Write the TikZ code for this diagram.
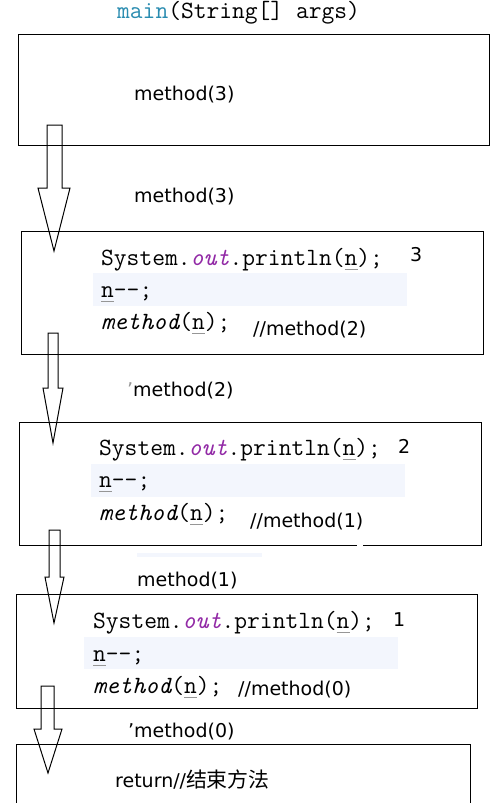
\documentclass[tikz,border=0pt]{standalone}
\usepackage{fontspec}
\setmainfont{DejaVu Sans}
\newfontfamily\cjk[Scale=1.1]{Noto Sans CJK SC}
\definecolor{MainBlue} {RGB}{42,140,176}
\definecolor{OutPurple}{RGB}{146,42,166}
\definecolor{LineBand} {RGB}{243,246,253}
\definecolor{VarLine}  {RGB}{150,150,150}
\newcommand\uvar{\rlap{\color{VarLine}\rule[-0.2em]{0.525em}{0.05em}}n}
\tikzset{
  callbox/.style={draw,line width=1pt},
  code/.style={font=\ttfamily\fontsize{24.8}{26}\selectfont,anchor=base west,inner sep=0pt},
  lbl/.style={font=\fontsize{19}{22}\selectfont,anchor=base west,inner sep=0pt},
  blockarrow/.style={draw,line width=1pt,line join=miter}
}

\begin{document}
\begin{tikzpicture}[x=1pt,y=-1pt]
  \useasboundingbox (0,0) rectangle (499,803);
  % header
  \node[code] (head) at (117,18) {\textcolor{MainBlue}{main}(String[] args)};
  % frame of main
  \draw[callbox] (18,34) rectangle (489,145);
  \node[lbl] (call3) at (134,100) {method(3)};

  % highlighted lines
  \fill[LineBand] (93,273) rectangle (407,306);
  \fill[LineBand] (91,464) rectangle (405,497);
  \fill[LineBand] (84,637) rectangle (398,669);
  \fill[LineBand] (137,553) rectangle (262,557);

  % frames of method(3), method(2), method(1)
  \draw[callbox] (21,231) rectangle (483,354);
  \draw[callbox] (19,422) rectangle (481,545);
  \fill[white] (357,543) rectangle (363,547);
  \draw[callbox] (16,594) rectangle (477,708);
  % frame of method(0)
  \draw[callbox] (16,744) rectangle (470,812);

  % bodies
  \foreach \nm/\x/\ya/\yb/\yc/\out/\ox/\oy/\cmt/\cx/\cy in
     {m3/101/265/297/329/3/410/261/2/253/335,
      m2/99/455/487/520/2/398/453/1/250/527,
      m1/93/628/661/693/1/393/626/0/238/695}{
    \node[code] (\nm-print) at (\x,\ya)
      {System.\textcolor{OutPurple}{\itshape out}.println(\uvar);};
    \node[code] (\nm-dec) at (\x,\yb) {\uvar--;};
    \node[code] (\nm-rec) at (\x,\yc) {{\itshape method}(\uvar);};
    \node[lbl] (\nm-out) at (\ox,\oy) {\out};
    \node[lbl] (\nm-cmt) at (\cx,\cy) {//method(\cmt)};
  }

  % calls between the frames
  \node[lbl] (lbl3) at (134,202) {method(3)};
  \node[lbl] (lbl2) at (127,396) {\textcolor{VarLine}{\symbol{39}}method(2)};
  \node[lbl] (lbl1) at (137,586) {method(1)};
  \node[lbl] (lbl0) at (128,737) {\symbol{39}method(0)};
  \node[lbl] (ret) at (115,787) {return//{\cjk 结束方法}};

  % block arrows
  \foreach \xl/\xr/\yt/\yh/\hl/\hr/\tx/\ty in
     {47/62/125/188/38/70/54/251,
      48/58/333/388/43/63/53/443,
      49/60/530/577/45/64/54/623,
      41/54/686/729/34/62/48/773}{
    \draw[blockarrow] (\xl,\yt) -- (\xr,\yt) -- (\xr,\yh) -- (\hr,\yh)
      -- (\tx,\ty) -- (\hl,\yh) -- (\xl,\yh) -- cycle;
  }
\end{tikzpicture}
\end{document}
